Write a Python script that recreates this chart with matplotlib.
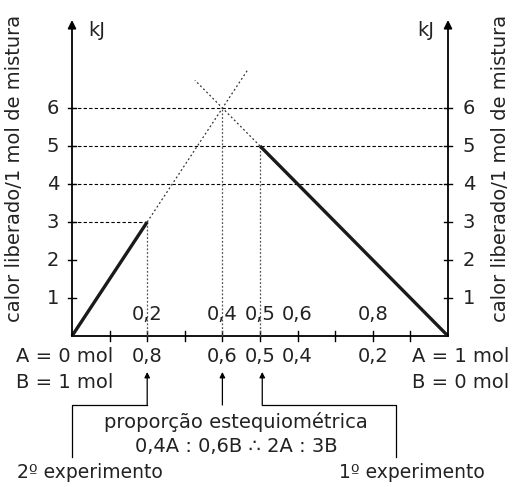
import matplotlib
matplotlib.use('Agg')
import matplotlib.pyplot as plt

plt.rcParams['font.family'] = ['DejaVu Sans']
plt.rcParams['text.color'] = '#222222'

# dados do gráfico (fração molar de A no eixo x, kJ no eixo y)
fracao_A = [0.2, 0.4, 0.5, 0.6, 0.8]
rotulo_A = ['0,2', '0,4', '0,5', '0,6', '0,8']
rotulo_B = ['0,8', '0,6', '0,5', '0,4', '0,2']
ticks_x = [0.1, 0.2, 0.3, 0.4, 0.5, 0.6, 0.7, 0.8, 0.9]
ticks_y = [1, 2, 3, 4, 5, 6]

# segmentos medidos
reta_B_x = [0.0, 0.2]          # 2º experimento (excesso de B)
reta_B_y = [0.0, 3.0]
reta_A_x = [0.5, 1.0]          # 1º experimento (excesso de A)
reta_A_y = [5.0, 0.0]
ext_B_x = [0.2, 0.467]          # prolongamentos pontilhados
ext_B_y = [3.0, 7.0]
ext_A_x = [0.5, 0.327]
ext_A_y = [5.0, 6.73]
ponto_esteq = (0.4, 6.0)
ponto_exp2 = (0.2, 3.0)
ponto_exp1 = (0.5, 5.0)

fig = plt.figure(figsize=(5.12, 4.87), dpi=100)
ax = fig.add_axes([72/512, 151/487, 376/512, 228/487])
ax.set_xlim(0, 1)
ax.set_ylim(0, 6)
ax.axis('off')

# conversão de pixel para coordenadas (só para posicionar textos)
def X(px):
    return (px - 72) / 376
def Y(py):
    return (336 - py) / 38

fs = 14
k = dict(clip_on=False)

# eixos com setas
ytop = Y(20)
for xa in [0, 1]:
    ax.annotate('', xy=(xa, ytop), xytext=(xa, 0), annotation_clip=False,
                arrowprops=dict(arrowstyle='-|>', lw=1.3, color='black',
                                mutation_scale=12, shrinkA=0, shrinkB=0))
ax.plot([0, 1], [0, 0], color='black', lw=1.3, **k)
ax.text(X(88), Y(31), 'kJ', fontsize=fs, ha='left', va='center')
ax.text(X(434), Y(31), 'kJ', fontsize=fs, ha='right', va='center')

# ticks
dy = 5 / 38
dx = 4 / 376
for t in ticks_x:
    ax.plot([t, t], [-dy, dy], color='black', lw=1.0, **k)
for t in ticks_y:
    ax.plot([-dx, dx], [t, t], color='black', lw=1.0, **k)
    ax.plot([1 - dx, 1 + dx], [t, t], color='black', lw=1.0, **k)
    ax.text(X(53), t, str(t), fontsize=fs, ha='center', va='center')
    ax.text(X(469), t, str(t), fontsize=fs, ha='center', va='center')

# linhas de referência tracejadas
ax.plot([0, ponto_exp2[0]], [ponto_exp2[1]] * 2, color='black', lw=0.8, ls=(0, (3, 2)), **k)
for v in [4, 5, 6]:
    ax.plot([0, 1], [v, v], color='black', lw=0.8, ls=(0, (3, 2)), **k)
for (px_, py_) in [ponto_exp2, ponto_esteq, ponto_exp1]:
    ax.plot([px_, px_], [0, py_], color='#555555', lw=0.9, ls=(0, (1.5, 1.5)), **k)

# prolongamentos
ax.plot(ext_B_x, ext_B_y, color='#333333', lw=0.9, ls=(0, (1.5, 2)), **k)
ax.plot(ext_A_x, ext_A_y, color='#333333', lw=0.9, ls=(0, (1.5, 2)), **k)

# retas sólidas
ax.plot(reta_B_x, reta_B_y, color='#1a1a1a', lw=2.4, solid_capstyle='butt', **k)
ax.plot(reta_A_x, reta_A_y, color='#1a1a1a', lw=2.4, solid_capstyle='butt', **k)

# rótulos do eixo x
for xv, la, lb in zip(fracao_A, rotulo_A, rotulo_B):
    ax.text(xv, Y(315), la, fontsize=fs, ha='center', va='center')
    ax.text(xv, Y(356), lb, fontsize=fs, ha='center', va='center')
ax.text(X(16), Y(356), 'A = 0 mol', fontsize=fs, ha='left', va='center')
ax.text(X(16), Y(382), 'B = 1 mol', fontsize=fs, ha='left', va='center')
ax.text(X(509), Y(356), 'A = 1 mol', fontsize=fs, ha='right', va='center')
ax.text(X(509), Y(382), 'B = 0 mol', fontsize=fs, ha='right', va='center')

# títulos verticais
ax.text(X(15), Y(168), 'calor liberado/1 mol de mistura', fontsize=fs,
        rotation=90, ha='center', va='center')
ax.text(X(500), Y(168), 'calor liberado/1 mol de mistura', fontsize=fs,
        rotation=90, ha='center', va='center')

# setas e conectores de baixo
yb = Y(405)
ya = Y(372)
for xv in [ponto_exp2[0], ponto_esteq[0], ponto_exp1[0]]:
    xa = xv + (0.006 if xv == 0.5 else 0)
    ax.annotate('', xy=(xa, ya), xytext=(xa, yb), annotation_clip=False,
                arrowprops=dict(arrowstyle='-|>', lw=0.9, color='black',
                                mutation_scale=8, shrinkA=0, shrinkB=0))
ax.plot([ponto_exp2[0], 0, 0], [yb, yb, Y(457)], color='black', lw=0.9, **k)
ax.plot([ponto_exp1[0] + 0.006, X(396), X(396)], [yb, yb, Y(457)], color='black', lw=0.9, **k)

ax.text(X(236), Y(422), 'proporção estequiométrica', fontsize=fs, ha='center', va='center')
ax.text(X(236), Y(447), '0,4A : 0,6B ∴ 2A : 3B', fontsize=fs, ha='center', va='center')
ax.text(X(90), Y(472), '2º experimento', fontsize=13.5, ha='center', va='center')
ax.text(X(412), Y(472), '1º experimento', fontsize=13.5, ha='center', va='center')

fig.savefig('out.png', dpi=100)
